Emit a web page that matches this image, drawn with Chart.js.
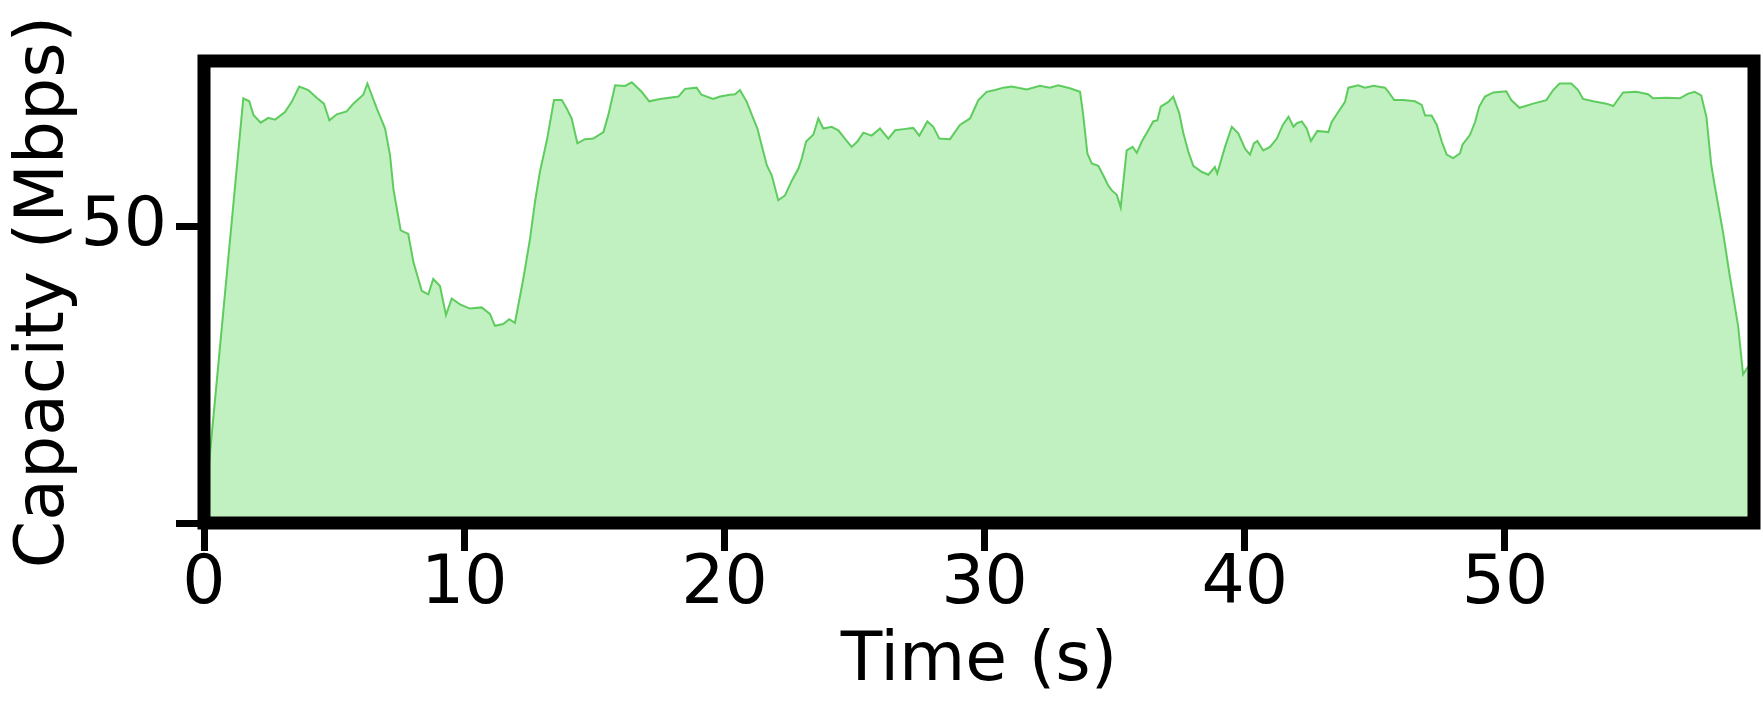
<!DOCTYPE html>
<html>
<head>
<meta charset="utf-8">
<script src="https://cdn.jsdelivr.net/npm/chart.js@4.4.1/dist/chart.umd.min.js"></script>
<style>
  html, body { margin: 0; padding: 0; background: #fff; }
  canvas { display: block; }
</style>
</head>
<body>
<canvas id="c" width="1763" height="705"></canvas>
<script>
// Time (s)
const times = [
  0.00, 1.51, 1.74, 1.90, 2.18, 2.47, 2.73, 3.11, 3.37, 3.66, 4.01, 4.33, 4.61, 4.82, 5.10, 5.48, 5.74, 6.12, 6.28, 6.64,
  6.96, 7.15, 7.28, 7.41, 7.56, 7.85, 8.05, 8.37, 8.62, 8.81, 9.07, 9.30, 9.52, 9.84, 10.22, 10.67, 10.99, 11.18, 11.50, 11.73,
  11.95, 12.27, 12.53, 12.72, 12.91, 13.19, 13.45, 13.75, 13.94, 14.13, 14.35, 14.64, 14.96, 15.35, 15.54, 15.80, 16.18, 16.44, 16.82, 17.11,
  17.52, 18.23, 18.49, 18.93, 19.12, 19.57, 19.83, 20.21, 20.41, 20.60, 20.86, 21.11, 21.27, 21.43, 21.63, 21.82, 22.07, 22.33, 22.59, 22.84,
  22.97, 23.14, 23.42, 23.61, 23.80, 24.12, 24.38, 24.63, 24.89, 25.11, 25.34, 25.66, 25.98, 26.30, 26.56, 26.88, 27.26, 27.49, 27.80, 28.03,
  28.26, 28.67, 29.05, 29.44, 29.76, 30.08, 30.40, 30.72, 31.04, 31.62, 32.13, 32.51, 32.83, 33.28, 33.67, 33.79, 33.95, 34.12, 34.37, 34.56,
  34.75, 34.88, 35.08, 35.23, 35.46, 35.69, 35.85, 36.04, 36.29, 36.48, 36.64, 36.77, 37.06, 37.25, 37.48, 37.64, 37.83, 38.02, 38.34, 38.60,
  38.85, 38.94, 39.24, 39.50, 39.75, 40.01, 40.20, 40.35, 40.48, 40.71, 40.97, 41.23, 41.46, 41.68, 41.87, 42.00, 42.19, 42.38, 42.54, 42.79,
  43.21, 43.34, 43.59, 43.85, 43.98, 44.36, 44.62, 44.94, 45.39, 45.52, 45.74, 46.09, 46.54, 46.80, 46.93, 47.18, 47.38, 47.57, 47.76, 48.01,
  48.27, 48.37, 48.65, 48.85, 49.01, 49.23, 49.55, 50.05, 50.24, 50.56, 51.08, 51.59, 51.85, 52.10, 52.55, 52.81, 53.00, 53.39, 53.90, 54.16,
  54.39, 54.54, 55.05, 55.50, 55.69, 56.20, 56.72, 57.04, 57.29, 57.54, 57.74, 57.93, 58.06, 58.38, 58.64, 58.96, 59.15, 59.31, 59.50
];
// Capacity (Mbps)
const capacity = [
  1.0, 71.7, 71.2, 68.9, 67.6, 68.4, 68.1, 69.4, 71.1, 73.7, 73.1, 71.8, 70.8, 68.0, 69.0, 69.5, 70.8, 72.3, 74.2, 70.0,
  66.6, 62.1, 56.4, 53.1, 49.4, 48.8, 44.0, 39.2, 38.6, 41.2, 40.0, 35.1, 37.9, 36.9, 36.2, 36.4, 35.3, 33.3, 33.6, 34.4,
  33.8, 41.2, 48.0, 54.2, 59.3, 64.9, 71.4, 71.4, 70.0, 68.3, 64.1, 64.8, 64.9, 66.0, 68.9, 73.9, 73.8, 74.4, 72.8, 71.2,
  71.6, 72.0, 73.3, 73.5, 72.3, 71.6, 72.0, 72.3, 72.4, 73.1, 71.1, 68.3, 66.6, 63.8, 60.4, 58.7, 54.5, 55.3, 57.8, 59.8,
  61.5, 64.4, 65.6, 68.3, 66.6, 66.9, 66.3, 64.9, 63.5, 64.4, 65.9, 65.4, 66.6, 64.9, 66.3, 66.5, 66.7, 65.4, 67.8, 66.9,
  64.9, 64.8, 67.2, 68.3, 71.4, 72.8, 73.1, 73.5, 73.7, 73.2, 73.8, 73.5, 73.9, 73.4, 72.8, 68.9, 62.4, 60.7, 60.3, 58.7,
  57.0, 56.2, 55.4, 53.3, 62.9, 63.5, 62.5, 64.4, 66.3, 67.8, 68.0, 70.3, 71.1, 72.0, 69.2, 65.8, 62.7, 60.3, 59.3, 58.8,
  60.1, 59.0, 63.5, 66.9, 65.8, 63.2, 62.2, 64.1, 64.5, 62.9, 63.5, 64.9, 67.2, 68.6, 66.9, 67.5, 67.8, 66.6, 64.5, 66.2,
  66.0, 67.7, 69.4, 71.1, 73.5, 73.9, 73.5, 73.8, 73.5, 72.8, 71.4, 71.4, 71.2, 70.6, 68.8, 68.8, 67.2, 64.4, 62.2, 61.6,
  62.4, 63.9, 65.5, 67.7, 70.3, 72.0, 72.7, 72.9, 71.4, 70.1, 70.8, 71.4, 73.1, 74.2, 74.2, 73.1, 71.6, 71.2, 70.8, 70.4,
  71.8, 72.7, 72.8, 72.4, 71.7, 71.8, 71.7, 72.5, 72.8, 72.2, 68.6, 60.4, 57.0, 49.1, 41.7, 33.3, 25.1, 26.2, 27.0
];
const xTicks = [0, 10, 20, 30, 40, 50];
const yTicks = [0, 50];
const yTickLabels = ['', '50'];
const xLabel = 'Time (s)';
const yLabel = 'Capacity (Mbps)';
const xRange = [0, 59.57];
const yRange = [0, 78];

const FONT = 'DejaVu Sans';
const framePlugin = {
  id: 'frame',
  afterDraw(chart) {
    const {ctx, chartArea: a} = chart;
    ctx.save();
    ctx.strokeStyle = '#000';
    ctx.lineWidth = 13;
    ctx.lineJoin = 'miter';
    ctx.strokeRect(a.left, a.top, a.right - a.left, a.bottom - a.top);
    ctx.restore();
  }
};

const tickGrid = {
  display: true,
  drawOnChartArea: false,
  drawTicks: true,
  tickLength: 28,
  tickWidth: 7,
  tickColor: '#000'
};

new Chart(document.getElementById('c'), {
  type: 'line',
  data: {
    datasets: [{
      data: times.map((t, i) => ({x: t, y: capacity[i]})),
      borderColor: 'rgba(80,200,80,0.9)',
      borderWidth: 2,
      backgroundColor: 'rgb(193,240,193)',
      fill: 'origin',
      pointRadius: 0,
      tension: 0
    }]
  },
  options: {
    responsive: false,
    animation: false,
    events: [],
    layout: { padding: { top: 61, right: 9, left: 0, bottom: 0 } },
    plugins: { legend: { display: false }, tooltip: { enabled: false } },
    scales: {
      x: {
        type: 'linear',
        min: xRange[0], max: xRange[1],
        afterBuildTicks: s => { s.ticks = xTicks.map(v => ({value: v})); },
        afterFit: s => { s.height = 182; },
        grid: tickGrid,
        border: { display: false },
        ticks: {
          color: '#000', padding: 0, maxRotation: 0, autoSkip: false,
          font: { family: FONT, size: 68, lineHeight: 1 },
          callback: v => String(v)
        },
        title: {
          display: true, text: xLabel, color: '#000',
          font: { family: FONT, size: 68, lineHeight: 1 },
          padding: { top: 0, bottom: 9 }
        }
      },
      y: {
        type: 'linear',
        min: yRange[0], max: yRange[1],
        afterBuildTicks: s => { s.ticks = yTicks.map(v => ({value: v})); },
        afterFit: s => { s.width = 204; },
        grid: tickGrid,
        border: { display: false },
        ticks: {
          color: '#000', padding: 9, autoSkip: false,
          font: { family: FONT, size: 68, lineHeight: 1 },
          callback: (v) => yTickLabels[yTicks.indexOf(v)] ?? ''
        },
        title: {
          display: true, text: yLabel, color: '#000',
          font: { family: FONT, size: 68, lineHeight: 1 },
          padding: { top: 11, bottom: 0 }
        }
      }
    }
  },
  plugins: [framePlugin]
});
</script>
</body>
</html>
